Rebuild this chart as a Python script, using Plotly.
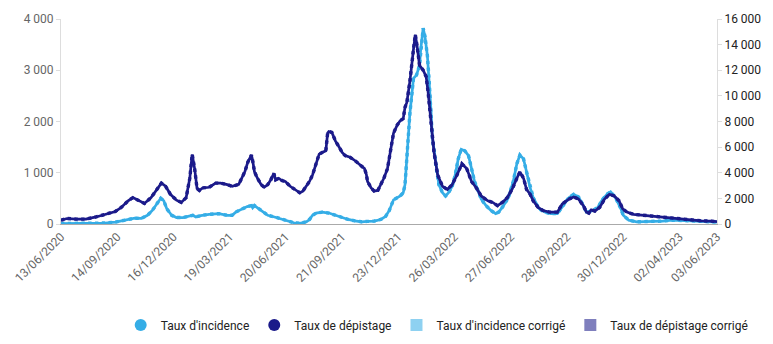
import plotly.graph_objects as go
from datetime import date

# ---------------- data ----------------
tick_dates = ["2020-06-13", "2020-09-14", "2020-12-16", "2021-03-19", "2021-06-20",
              "2021-09-21", "2021-12-23", "2022-03-26", "2022-06-27", "2022-09-28",
              "2022-12-30", "2023-04-02", "2023-06-03"]

dep_dates = ["2020-06-13","2020-06-23","2020-07-08","2020-07-24","2020-08-10","2020-08-25","2020-09-11","2020-09-21","2020-10-02","2020-10-10",
             "2020-10-18","2020-10-29","2020-11-09","2020-11-20","2020-11-26","2020-12-03","2020-12-11","2020-12-21","2020-12-29","2021-01-06",
             "2021-01-12","2021-01-16","2021-01-20","2021-01-24","2021-01-28","2021-02-02","2021-02-13","2021-02-24","2021-03-04","2021-03-15",
             "2021-03-23","2021-04-03","2021-04-13","2021-04-18","2021-04-24","2021-04-26","2021-04-29","2021-05-04","2021-05-10","2021-05-15",
             "2021-05-21","2021-05-26","2021-05-31","2021-06-03","2021-06-08","2021-06-14","2021-06-19","2021-06-27","2021-07-05","2021-07-13",
             "2021-07-18","2021-07-24","2021-07-29","2021-08-03","2021-08-09","2021-08-14","2021-08-19","2021-08-25","2021-08-28","2021-08-30",
             "2021-09-04","2021-09-10","2021-09-15","2021-09-21","2021-09-26","2021-10-04","2021-10-12","2021-10-17","2021-10-23","2021-10-28",
             "2021-10-31","2021-11-02","2021-11-08","2021-11-13","2021-11-19","2021-11-24","2021-11-29","2021-12-05","2021-12-10","2021-12-15",
             "2021-12-21","2021-12-26","2021-12-31","2022-01-03","2022-01-06","2022-01-11","2022-01-17","2022-01-20","2022-01-23","2022-01-27",
             "2022-02-02","2022-02-07","2022-02-10","2022-02-15","2022-02-20","2022-02-26","2022-03-06","2022-03-14","2022-03-22","2022-03-30",
             "2022-04-07","2022-04-15","2022-04-23","2022-05-01","2022-05-09","2022-05-20","2022-05-28","2022-06-05","2022-06-13","2022-06-21",
             "2022-06-29","2022-07-07","2022-07-12","2022-07-18","2022-07-23","2022-07-29","2022-08-03","2022-08-11","2022-08-19","2022-08-30",
             "2022-09-12","2022-09-20","2022-10-01","2022-10-09","2022-10-17","2022-10-25","2022-10-30","2022-11-03","2022-11-07","2022-11-13",
             "2022-11-21","2022-11-29","2022-12-07","2022-12-15","2022-12-23","2022-12-29","2023-01-05","2023-01-16","2023-02-01","2023-02-23",
             "2023-03-16","2023-04-06","2023-04-22","2023-05-08","2023-05-24","2023-06-03"]

taux_depistage = [300,430,377,377,551,755,981,1306,1811,2060,
                  1864,1608,2060,2815,3192,2943,2317,1864,1683,2060,
                  3570,5434,4324,2770,2619,2815,2868,3192,3192,3072,
                  2943,3094,4075,4830,5381,4958,4075,3570,3072,2868,
                  3072,3449,3947,3449,3570,3374,3321,2943,2694,2438,
                  2566,2943,3321,3826,4830,5457,5585,5713,7094,7223,
                  7147,6468,6090,5585,5336,5207,4958,4755,4528,4324,
                  3872,3321,2815,2566,2619,3072,3570,4324,5585,7094,
                  7720,8053,8226,9109,9487,11117,13638,14770,13886,12377,
                  12000,11494,10362,8098,5585,3826,2943,2694,3072,3826,
                  4702,4324,3321,2815,2189,1811,1683,1434,1683,2060,
                  2694,3570,4075,3570,2694,2317,1811,1306,1057,928,
                  928,1562,1940,2113,1940,1434,928,853,1109,1004,
                  1306,1940,2317,2189,1811,1185,928,755,679,551,
                  475,377,302,249,226,190]

inc_dates = ["2020-06-13","2020-07-08","2020-07-30","2020-08-25","2020-09-11","2020-09-21","2020-10-02","2020-10-13","2020-10-24","2020-11-03",
             "2020-11-11","2020-11-20","2020-11-25","2020-11-30","2020-12-05","2020-12-13","2020-12-21","2021-01-01","2021-01-12","2021-01-17",
             "2021-01-22","2021-01-30","2021-02-13","2021-03-01","2021-03-15","2021-03-23","2021-03-29","2021-04-09","2021-04-17","2021-04-24",
             "2021-04-26","2021-04-29","2021-05-04","2021-05-10","2021-05-21","2021-06-01","2021-06-11","2021-06-22","2021-07-03","2021-07-13",
             "2021-07-24","2021-07-29","2021-08-03","2021-08-09","2021-08-19","2021-08-30","2021-09-10","2021-09-21","2021-10-01","2021-10-12",
             "2021-10-23","2021-11-02","2021-11-13","2021-11-24","2021-12-02","2021-12-08","2021-12-15","2021-12-26","2021-12-31","2022-01-03",
             "2022-01-07","2022-01-11","2022-01-17","2022-01-22","2022-01-27","2022-01-29","2022-02-02","2022-02-05","2022-02-09","2022-02-12",
             "2022-02-15","2022-02-17","2022-02-23","2022-02-28","2022-03-06","2022-03-11","2022-03-16","2022-03-22","2022-03-27","2022-04-01",
             "2022-04-06","2022-04-12","2022-04-18","2022-04-23","2022-04-28","2022-05-04","2022-05-09","2022-05-17","2022-05-25","2022-06-02",
             "2022-06-07","2022-06-15","2022-06-23","2022-07-01","2022-07-07","2022-07-12","2022-07-18","2022-07-23","2022-07-29","2022-08-03",
             "2022-08-08","2022-08-13","2022-08-22","2022-09-01","2022-09-12","2022-09-20","2022-10-01","2022-10-09","2022-10-17","2022-10-25",
             "2022-10-30","2022-11-04","2022-11-10","2022-11-18","2022-11-26","2022-12-04","2022-12-09","2022-12-17","2022-12-25","2022-12-30",
             "2023-01-08","2023-01-21","2023-02-11","2023-03-05","2023-03-21","2023-04-06","2023-04-22","2023-05-08","2023-05-24","2023-06-03"]

taux_incidence = [10,10,13,19,38,62,89,113,108,170,
                  264,421,504,453,296,170,126,126,151,170,
                  138,164,189,202,170,170,232,296,340,359,
                  315,359,315,251,170,138,108,62,25,13,
                  43,89,170,213,232,213,170,126,89,62,
                  43,51,57,89,151,264,472,547,609,768,
                  1523,2151,2844,2906,3095,3410,3821,3661,3283,2780,
                  2213,1712,1145,768,609,547,609,736,957,1270,
                  1459,1428,1334,1081,830,642,485,359,264,202,
                  232,359,515,830,1176,1345,1270,1019,704,515,
                  391,296,232,202,202,340,515,579,528,359,
                  232,245,264,326,485,591,628,515,326,170,
                  75,43,43,57,75,75,62,51,43,38]

# corrected series coincide with the raw ones on the picture
taux_incidence_corrige = list(taux_incidence)
taux_depistage_corrige = list(taux_depistage)

assert len(dep_dates) == len(taux_depistage)
assert len(inc_dates) == len(taux_incidence)

LIGHT = "#35ADE6"
DARK = "#1B1A8A"

tick_text = [date.fromisoformat(d).strftime("%d/%m/%Y") for d in tick_dates]

fig = go.Figure()

# corrected (textured) lines under the raw ones
fig.add_trace(go.Scatter(x=inc_dates, y=taux_incidence_corrige, mode="lines",
                         line=dict(color=LIGHT, width=3.4, dash="dot"),
                         showlegend=False, hoverinfo="skip", yaxis="y"))
fig.add_trace(go.Scatter(x=inc_dates, y=taux_incidence, mode="lines",
                         line=dict(color=LIGHT, width=2.7),
                         showlegend=False, name="Taux d'incidence", yaxis="y"))
fig.add_trace(go.Scatter(x=dep_dates, y=taux_depistage_corrige, mode="lines",
                         line=dict(color=DARK, width=3.4, dash="dot"),
                         showlegend=False, hoverinfo="skip", yaxis="y2"))
fig.add_trace(go.Scatter(x=dep_dates, y=taux_depistage, mode="lines",
                         line=dict(color=DARK, width=2.7),
                         showlegend=False, name="Taux de dépistage", yaxis="y2"))

# legend entries
fig.add_trace(go.Scatter(x=[None], y=[None], mode="markers", name="Taux d'incidence",
                         marker=dict(symbol="circle", size=12, color=LIGHT)))
fig.add_trace(go.Scatter(x=[None], y=[None], mode="markers", name="Taux de dépistage",
                         marker=dict(symbol="circle", size=12, color=DARK)))
fig.add_trace(go.Bar(x=[None], y=[None], name="Taux d'incidence corrigé",
                     marker=dict(color=LIGHT, line=dict(width=0),
                                 pattern=dict(shape=".", fgcolor="white", bgcolor=LIGHT,
                                              fillmode="replace", size=2, solidity=0.5))))
fig.add_trace(go.Bar(x=[None], y=[None], name="Taux de dépistage corrigé",
                     marker=dict(color=DARK, line=dict(width=0),
                                 pattern=dict(shape=".", fgcolor="white", bgcolor=DARK,
                                              fillmode="replace", size=2, solidity=0.5))))

fig.update_layout(
    width=773, height=344,
    margin=dict(l=44, r=54, t=12, b=120),
    paper_bgcolor="white", plot_bgcolor="white",
    font=dict(family="Roboto, Arial, sans-serif", size=12, color="#333"),
    separators=", ",
    showlegend=True,
    legend=dict(orientation="h", xref="container", yref="container",
                x=0.975, xanchor="right", y=0.055, yanchor="middle",
                font=dict(size=12, color="#222"), itemwidth=30,
                bgcolor="rgba(0,0,0,0)"),
    xaxis=dict(type="date", range=[tick_dates[0], tick_dates[-1]],
               tickvals=tick_dates, ticktext=tick_text, tickangle=-45,
               tickfont=dict(size=12, color="#666"),
               showgrid=False, zeroline=False,
               showline=True, linecolor="#aaa", linewidth=1, ticks=""),
    yaxis=dict(range=[0, 4000], dtick=1000, tickformat=",d",
               tickfont=dict(size=12, color="#666"),
               showgrid=False, zeroline=False,
               showline=True, linecolor="#ddd", linewidth=1,
               ticks="outside", ticklen=4, tickcolor="#ddd"),
    yaxis2=dict(range=[0, 16000], dtick=2000, tickformat=",d", overlaying="y", side="right",
                tickfont=dict(size=12, color="#222"),
                showgrid=False, zeroline=False,
                showline=True, linecolor="#ddd", linewidth=1,
                ticks="outside", ticklen=4, tickcolor="#ddd"),
)

fig.write_html("out.html")
